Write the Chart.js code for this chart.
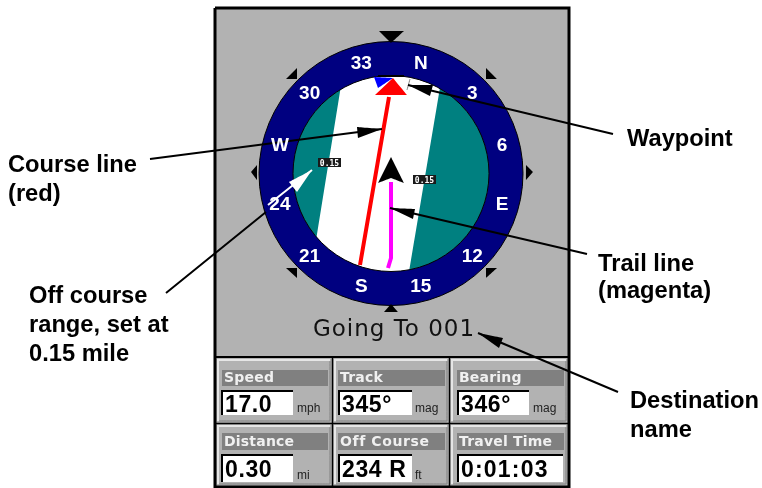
<!DOCTYPE html>
<html>
<head>
<meta charset="utf-8">
<style>html,body{margin:0;background:#fff}canvas{display:block}</style>
<script src="https://cdn.jsdelivr.net/npm/chart.js@4/dist/chart.umd.min.js"></script>
</head>
<body>
<canvas id="gps" width="762" height="488"></canvas>
<script>
// compass card
var heading = 345;
var compassLabels = ["N","3","6","E","12","15","S","21","24","W","30","33"];
var compassBearings = [0,30,60,90,120,150,180,210,240,270,300,330];

// info boxes
var infoTitles = ["Speed","Track","Bearing","Distance","Off Course","Travel Time"];
var infoValues = ["17.0","345°","346°","0.30","234 R","0:01:03"];
var infoUnits = ["mph","mag","mag","mi","ft",""];

var destination = "Going To 001";
var rangeLabel = "0.15";
var calloutLabels = ["Course line","(red)","Off course","range, set at","0.15 mile","Waypoint","Trail line","(magenta)","Destination","name"];

// picture coordinates
var center = [391, 173.5];
var whiteBand = [[343.5,70],[443,70],[407,285],[312,265]];
var courseLine = [[389,97],[360,265]];
var trailLine = [[391,182],[391,258],[388,268]];
var boat = [[391,157],[404,183],[391,178],[378,183]];
var targetRed = [[393,78],[407,95],[375,95]];
var targetBlue = [[374,77],[393,78],[378,88]];
var targetWhite = [[374,77],[410,78],[407,90],[378,90]];
var calloutLines = [
  [[150,159],[382,129]],
  [[613,134],[408,85]],
  [[587,254],[390,208]],
  [[166,293],[266,212]],
  [[618,392],[478,333]]
];
var calloutHeads = [
  [[382,129],[357,127],[358,138]],
  [[408,85],[433,85],[430,96]],
  [[390,208],[415,209],[413,219]],
  [[478,333],[503,338],[499,348]]
];
var whiteArrowLine = [[268,205],[312,170]];
var whiteArrowHead = [[312,170],[289,182],[297,192]];
var pointers = [
  [[379,31],[404,31],[391,43]],
  [[286,79],[297,79],[297,68]],
  [[486,68],[497,79],[486,79]],
  [[257,165],[257,180],[251,172]],
  [[526,165],[526,180],[533,172]],
  [[286,268],[297,268],[297,278]],
  [[486,268],[497,268],[486,278]],
  [[384,312],[398,312],[391,304]]
];
var rangeBoxes = [[318,158,341,167],[413,175,436,184]];
var cellX = [[216,332],[333,449],[450,568]];
var cellY = [[358,423],[424,486]];
var titleBars = [[222,370,328,386],[338,370,445,386],[457,370,564,386],[222,433,328,450],[338,433,445,450],[457,433,564,450]];
var valueBoxes = [[222,391,293,415],[339,391,412,415],[458,391,529,415],[222,455,293,482],[339,455,412,482],[458,455,563,482]];
var valueBaseline = [412,412,412,477,477,477];
var unitX = [297,415,533,297,415,0];
var labelX = [8,8,29,29,29,627,598,598,630,630];
var labelY = [172,201,303,332,361,146,271,298,408,437];

var datasets = [];
function rect(b, color) {
  shape([[b[0],b[1]],[b[2],b[1]],[b[2],b[3]],[b[0],b[3]]], color);
}
// tiny tension keeps chart.js off its fast path, which merges points sharing an x
function shape(pts, color) {
  datasets.push({data: pts.map(xy), showLine: true, fill: 'shape', backgroundColor: color,
    borderColor: 'transparent', borderWidth: 0.5, pointRadius: 0, tension: 0.00001});
}
function line(pts, color, width) {
  datasets.push({data: pts.map(xy), showLine: true, fill: false, borderColor: color,
    borderWidth: width, pointRadius: 0, tension: 0.00001});
}
function disc(radius, fillColor, borderColor, width) {
  datasets.push({data: [xy(center)], showLine: false, pointStyle: 'circle', pointRadius: radius,
    pointBackgroundColor: fillColor, pointBorderColor: borderColor, pointBorderWidth: width});
}
function xy(p) { return {x: p[0], y: p[1]}; }

// unit body
rect([216,9,568,486], '#b2b2b2');

// compass
disc(98, '#008080', '#008080', 0);
shape(whiteBand, '#ffffff');
disc(115, 'rgba(0,0,0,0)', '#000080', 34);
disc(132, 'rgba(0,0,0,0)', '#000000', 1);
disc(98, 'rgba(0,0,0,0)', '#000000', 1);
pointers.forEach(function(p){ shape(p, '#000000'); });
shape(targetWhite, '#ffffff');
line([[378,76],[404,76]], '#000000', 2);
line([[410,79],[407,90]], '#808080', 1);
shape(targetBlue, '#0000ff');
shape(targetRed, '#ff0000');
line(courseLine, '#ff0000', 4);
line(trailLine, '#ff00ff', 4);
shape(boat, '#000000');
rangeBoxes.forEach(function(b){ rect(b, '#1a1a1a'); });

// info boxes
cellX.forEach(function(cx){
  cellY.forEach(function(cy){
    line([[cx[0]+2,cy[1]-2],[cx[0]+2,cy[0]+2],[cx[1]-2,cy[0]+2]], '#e6e6e6', 2);
    line([[cx[1]-2,cy[0]+3],[cx[1]-2,cy[1]-2],[cx[0]+3,cy[1]-2]], '#808080', 1);
  });
});
line([[216,357],[568,357]], '#000000', 2);
line([[216,423.5],[568,423.5]], '#000000', 1.5);
line([[332.5,357],[332.5,486]], '#000000', 1.5);
line([[449.5,357],[449.5,486]], '#000000', 1.5);
titleBars.forEach(function(b){ rect(b, '#808080'); });
valueBoxes.forEach(function(b){
  rect(b, '#ffffff');
  line([[b[0],b[3]],[b[0],b[1]],[b[2],b[1]]], '#000000', 2);
});

// frame
line([[215,8],[569,8],[569,487],[215,487],[215,8]], '#000000', 3);

// callouts
calloutLines.forEach(function(l){ line(l, '#000000', 2); });
calloutHeads.forEach(function(h){ shape(h, '#000000'); });
line(whiteArrowLine, '#ffffff', 2);
shape(whiteArrowHead, '#ffffff');

datasets.forEach(function(d, i){ d.order = -i; });

function put(ctx, chart, text, x, y, font, color, align, spacing) {
  ctx.font = font;
  ctx.fillStyle = color;
  ctx.textAlign = align || 'left';
  ctx.textBaseline = 'alphabetic';
  ctx.letterSpacing = spacing || '0px';
  ctx.fillText(text, chart.scales.x.getPixelForValue(x), chart.scales.y.getPixelForValue(y));
}

var textPlugin = {
  id: 'pictureText',
  afterDatasetsDraw: function(chart) {
    var ctx = chart.ctx;
    ctx.save();
    // compass card turns with the heading
    compassLabels.forEach(function(t, i){
      var a = (compassBearings[i] - heading) * Math.PI / 180;
      var x = center[0] + 115 * Math.sin(a);
      var y = center[1] - 115 * Math.cos(a) + 7;
      put(ctx, chart, t, x, y, 'bold 19px "Liberation Sans"', '#ffffff', 'center');
    });
    rangeBoxes.forEach(function(b){
      put(ctx, chart, rangeLabel, (b[0]+b[2])/2, b[3]-1.5, 'bold 8px "DejaVu Sans Mono"', '#ffffff', 'center');
    });
    put(ctx, chart, destination, 394, 336, '23px "DejaVu Sans"', '#111111', 'center', '1px');

    infoTitles.forEach(function(t, i){
      var b = titleBars[i];
      put(ctx, chart, t, b[0]+2, b[3]-4, 'bold 14px "DejaVu Sans"', '#f0f0f0', 'left', t === "Off Course" ? '0.6px' : '0.2px');
    });
    infoValues.forEach(function(t, i){
      var b = valueBoxes[i];
      var gap = t === "0:01:03" ? '1.2px' : '0.6px';
      put(ctx, chart, t, b[0]+3, valueBaseline[i], 'bold 23px "Liberation Sans"', '#000000', 'left', gap);
    });
    infoUnits.forEach(function(t, i){
      if (t) put(ctx, chart, t, unitX[i], valueBoxes[i][3]-3, '12px "Liberation Sans"', '#222222');
    });

    calloutLabels.forEach(function(t, i){
      put(ctx, chart, t, labelX[i], labelY[i], 'bold 23.7px "Liberation Sans"', '#000000');
    });
    ctx.restore();
  }
};

new Chart(document.getElementById('gps'), {
  type: 'scatter',
  data: {datasets: datasets},
  options: {
    responsive: false,
    animation: false,
    layout: {padding: 0, autoPadding: false},
    plugins: {legend: {display: false}, tooltip: {enabled: false}},
    scales: {
      x: {display: false, min: 0, max: 762},
      y: {display: false, min: 0, max: 488, reverse: true}
    }
  },
  plugins: [textPlugin]
});
</script>
</body>
</html>
